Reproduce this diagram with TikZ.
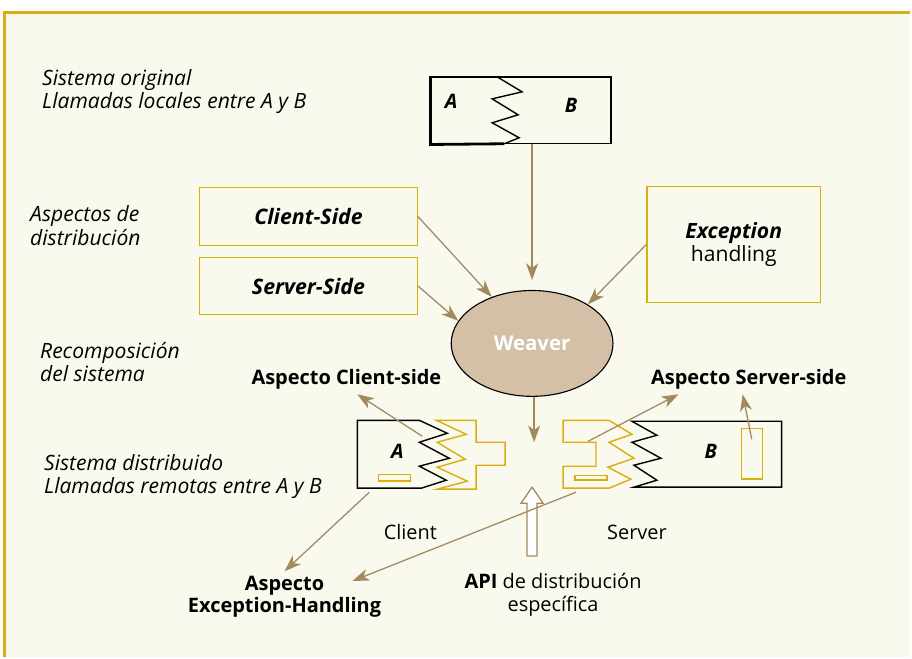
\documentclass[tikz,border=0pt]{standalone}
\usepackage{fontspec}
\setmainfont{Open Sans}
\usepackage{tikz}
\usetikzlibrary{positioning, arrows.meta, shapes.geometric}
\definecolor{cream}{HTML}{FAF9EE}
\definecolor{gold}{HTML}{D9AE0F}
\definecolor{tan}{HTML}{A38A5E}
\definecolor{weaverfill}{HTML}{D3C0A6}

\begin{document}
\begin{tikzpicture}[
        x=0.025cm, y=-0.025cm,
        every node/.style={font=\fontsize{14.2}{16.5}\selectfont},
        lbl/.style={anchor=west, align=left, inner sep=0pt, font=\fontsize{15}{16.5}\selectfont\itshape},
        side/.style={rectangle, draw=gold, line width=1pt, align=center, inner sep=0pt, font=\fontsize{15.2}{16.5}\selectfont\bfseries\itshape},
        bold/.style={align=center, font=\fontsize{14.2}{16}\selectfont\bfseries},
        arrow/.style={-{Stealth[length=4.2mm, width=3mm, inset=1.2mm]}, draw=tan, line width=0.9pt},
        stub/.style={draw=gold, line width=1pt},
        part/.style={draw=black, line width=1pt}
    ]

        % Background and frame
        \fill[white] (0,0) rectangle (912,658);
        \fill[cream] (4,13) rectangle (912,658);
        \draw[gold, line width=2.2pt] (4.5,658) -- (4.5,12.8) -- (912,12.8);
        \useasboundingbox (0,0) rectangle (912,658);

        % Left column texts
        \node[lbl] (txtOrig) at (42,92) {Sistema original\\Llamadas locales entre A y B};
        \node[lbl] (txtAsp) at (30,226) {Aspectos de\\distribución};
        \node[lbl] (txtRec) at (40,363) {Recomposición\\del sistema};
        \node[lbl] (txtDist) at (44,477) {Sistema distribuido\\Llamadas remotas entre A y B};

        % Original system
        \node (orig) [rectangle, draw, line width=1pt, minimum width=4.5cm, minimum height=1.675cm] at (522,110.5) {};
        \draw[line width=2pt] (orig.north west) -- (orig.south west) -- (505,144);
        \draw[part] (498,77) -- (523,92) -- (493,99) -- (519,115) -- (493,123) -- (520,138) -- (505,144);
        \node (origA) at (452,102) {\bfseries\itshape A};
        \node (origB) at (572,106) {\bfseries\itshape B};

        % Aspect boxes
        \node (sideCli) [side, minimum width=5.45cm, minimum height=1.45cm] at (309,217) {Client-Side};
        \node (sideSrv) [side, minimum width=5.45cm, minimum height=1.425cm] at (309,286.5) {Server-Side};
        \node (excBox) [side, minimum width=4.35cm, minimum height=2.9cm, font=\fontsize{15}{16.5}\selectfont] at (735,245) {\textbf{\textit{Exception}}\\handling};

        % Weaver
        \node (weaver) [ellipse, draw, line width=0.8pt, fill=weaverfill, minimum width=4.05cm, minimum height=2.65cm, inner sep=0pt, text=white, font=\fontsize{14.5}{16}\selectfont\bfseries] at (533,344) {Weaver};

        % Result labels
        \node (aspCli) [bold] at (347,380) {Aspecto Client-side};
        \node (aspSrv) [bold] at (750,380) {Aspecto Server-side};
        \node (aspExc) [bold] at (285,598) {Aspecto\\Exception-Handling};
        \node (lblClient) at (411,533) {Client};
        \node (lblServer) at (638,533) {Server};
        \node (api) [align=center] at (554,596) {\textbf{API} de distribución\\específica};

        % Distributed system, client part
        \draw[part] (358,421) -- (420,421) -- (448,434) -- (420,443) -- (450,459) -- (420,467) -- (447,481) -- (422,489) -- (358,489) -- cycle;
        \draw[stub] (437,421) -- (477,421) -- (477,443) -- (506,443) -- (506,466) -- (477,466) -- (477,490) -- (438,490) -- (468,482) -- (438,468) -- (466,460) -- (438,443) -- (467,435) -- cycle;
        \draw[stub] (379,475) rectangle (411,482);
        \node (distA) at (398,452) {\bfseries\itshape A};

        % Distributed system, server part
        \draw[part] (658,436) -- (633,422) -- (783,422) -- (783,488) -- (635,488) -- (658,481) -- (635,466) -- (662,459) -- (633,443) -- cycle;
        \draw[stub] (564,421) -- (610,421) -- (633,435) -- (610,443) -- (635,459) -- (609,468) -- (632,480) -- (610,489) -- (564,489) -- (564,467) -- (597,467) -- (597,443) -- (564,443) -- cycle;
        \draw[stub] (576,476) rectangle (608,481);
        \draw[stub] (743,429) rectangle (764,480);
        \node (distB) at (712,452) {\bfseries\itshape B};

        % API arrow
        \draw[draw=tan, fill=white, line width=0.9pt] (528,557) -- (528,504) -- (522,504) -- (533,488) -- (544,504) -- (538,504) -- (538,557) -- cycle;

        % Connector ends
        \coordinate (cliA) at (423,437);
        \coordinate (cliLow) at (370,493);
        \coordinate (srvB) at (589,442);
        \coordinate (srvLow) at (577,493);
        \coordinate (srvTall) at (753,440);
        \coordinate (wDown) at (535,443);

        % Draw arrows
        \draw [arrow, shorten >=7pt] (orig.south -| weaver) -- (weaver);
        \draw [arrow] (sideCli.east) -- (weaver.131);
        \draw [arrow] (sideSrv.east) -- (weaver.163);
        \draw [arrow] (excBox.west) -- (weaver.35);
        \draw [arrow] (weaver.south -| wDown) -- (wDown);
        \draw [arrow] (cliA) -- (aspCli.-54);
        \draw [arrow] (srvB) -- (aspSrv.-168);
        \draw [arrow] (srvTall) -- (aspSrv.-112);
        \draw [arrow] (cliLow) -- (aspExc.north);
        \draw [arrow] (srvLow) -- ([shift={(68,-16)}]aspExc.center);
    \end{tikzpicture}
\end{document}
